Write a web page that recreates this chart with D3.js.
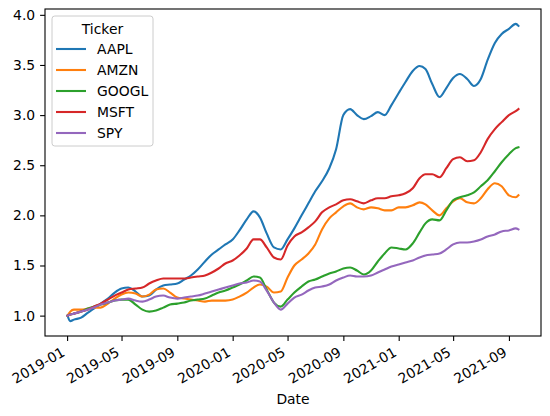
<!DOCTYPE html>
<html><head><meta charset="utf-8">
<script src="https://cdn.jsdelivr.net/npm/d3@7"></script>
<style>body{margin:0;background:#fff}svg{display:block}text{font-family:"DejaVu Sans",sans-serif;fill:#000}</style>
</head><body><svg id="c" width="550" height="416"></svg>
<script>
const dates = ["2019-01-02","2019-01-08","2019-01-16","2019-02-01","2019-02-16","2019-03-01","2019-03-16","2019-04-01","2019-04-16","2019-05-01","2019-05-16","2019-06-01","2019-06-16","2019-07-01","2019-07-16","2019-08-01","2019-08-16","2019-09-01","2019-09-16","2019-10-01","2019-10-16","2019-11-01","2019-11-16","2019-12-01","2019-12-16","2020-01-01","2020-01-16","2020-02-01","2020-02-16","2020-03-01","2020-03-16","2020-04-01","2020-04-16","2020-05-01","2020-05-16","2020-06-01","2020-06-16","2020-07-01","2020-07-16","2020-08-01","2020-08-16","2020-09-01","2020-09-16","2020-10-01","2020-10-16","2020-11-01","2020-11-16","2020-12-01","2020-12-16","2021-01-01","2021-01-16","2021-02-01","2021-02-16","2021-03-01","2021-03-16","2021-04-01","2021-04-16","2021-05-01","2021-05-16","2021-06-01","2021-06-16","2021-07-01","2021-07-16","2021-08-01","2021-08-16","2021-09-01","2021-09-16","2021-09-22"];
const tickers = ["AAPL","AMZN","GOOGL","MSFT","SPY"];
const colors = ["#1f77b4","#ff7f0e","#2ca02c","#d62728","#9467bd"];
const AAPL = [1.00,0.945,0.96,0.98,1.03,1.07,1.12,1.17,1.23,1.27,1.28,1.24,1.19,1.20,1.26,1.30,1.31,1.32,1.36,1.40,1.46,1.54,1.61,1.66,1.71,1.76,1.85,1.96,2.04,1.98,1.82,1.68,1.66,1.76,1.87,2.00,2.12,2.24,2.34,2.47,2.66,3.00,3.06,3.00,2.96,2.99,3.03,3.00,3.10,3.22,3.33,3.44,3.49,3.46,3.31,3.18,3.27,3.37,3.41,3.36,3.29,3.36,3.55,3.72,3.81,3.86,3.91,3.89];
const AMZN = [1.00,1.04,1.06,1.06,1.07,1.08,1.08,1.12,1.17,1.21,1.23,1.22,1.19,1.21,1.26,1.27,1.23,1.18,1.17,1.16,1.15,1.14,1.15,1.15,1.15,1.16,1.19,1.23,1.28,1.31,1.29,1.23,1.24,1.38,1.50,1.56,1.62,1.71,1.86,1.97,2.03,2.09,2.12,2.08,2.06,2.08,2.07,2.05,2.05,2.08,2.08,2.10,2.13,2.11,2.05,2.00,2.07,2.14,2.17,2.13,2.12,2.17,2.26,2.32,2.29,2.20,2.18,2.20];
const GOOGL = [1.00,1.01,1.02,1.04,1.07,1.09,1.11,1.13,1.15,1.16,1.16,1.11,1.06,1.04,1.05,1.08,1.11,1.12,1.13,1.15,1.16,1.17,1.20,1.23,1.25,1.28,1.31,1.35,1.39,1.38,1.26,1.13,1.09,1.16,1.23,1.29,1.34,1.36,1.39,1.42,1.44,1.47,1.48,1.45,1.41,1.45,1.54,1.62,1.68,1.67,1.66,1.72,1.83,1.92,1.96,1.95,2.05,2.15,2.18,2.20,2.23,2.29,2.35,2.44,2.53,2.61,2.67,2.68];
const MSFT = [1.00,1.01,1.02,1.04,1.06,1.09,1.12,1.16,1.20,1.23,1.26,1.27,1.28,1.32,1.35,1.37,1.37,1.37,1.37,1.38,1.39,1.40,1.43,1.47,1.52,1.55,1.60,1.67,1.76,1.76,1.68,1.58,1.56,1.70,1.79,1.83,1.88,1.94,2.03,2.08,2.11,2.15,2.16,2.14,2.12,2.15,2.17,2.17,2.19,2.20,2.22,2.27,2.37,2.41,2.41,2.38,2.47,2.56,2.58,2.54,2.55,2.63,2.76,2.86,2.93,3.00,3.04,3.06];
const SPY = [1.00,1.01,1.02,1.04,1.06,1.08,1.11,1.13,1.15,1.16,1.17,1.15,1.14,1.16,1.19,1.20,1.18,1.17,1.18,1.19,1.20,1.22,1.24,1.26,1.28,1.30,1.32,1.33,1.35,1.34,1.25,1.13,1.06,1.12,1.18,1.21,1.25,1.28,1.29,1.31,1.35,1.38,1.40,1.39,1.39,1.40,1.43,1.46,1.49,1.51,1.53,1.55,1.58,1.60,1.61,1.62,1.66,1.71,1.73,1.73,1.74,1.76,1.79,1.81,1.84,1.85,1.87,1.86];
const yTicks = [1.0,1.5,2.0,2.5,3.0,3.5,4.0];
const xTickLabels = ["2019-01","2019-05","2019-09","2020-01","2020-05","2020-09","2021-01","2021-05","2021-09"];
const xLabel = "Date", legendTitle = "Ticker";

const series = [AAPL,AMZN,GOOGL,MSFT,SPY];
const parse = d3.timeParse("%Y-%m-%d");
const pm = d3.timeParse("%Y-%m");
const dts = dates.map(parse);
const L=45,R=541,T=9,B=336;
const svg = d3.select("#c");
const [x0,x1] = d3.extent(dts);
const span = x1-x0;
const x = d3.scaleTime().domain([new Date(+x0-span*0.05), new Date(+x1+span*0.05)]).range([L,R]);
const allV = series.flat();
const [v0,v1] = d3.extent(allV);
const vs = v1-v0;
const y = d3.scaleLinear().domain([v0-vs*0.05, v1+vs*0.05]).range([B,T]);
const fs = 13.9;

const line = d3.line().x((d,i)=>x(dts[i])).y(d=>y(d)).curve(d3.curveMonotoneX);
series.forEach((s,k)=>{
  svg.append("path").attr("d",line(s)).attr("fill","none").attr("stroke",colors[k])
    .attr("stroke-width",2.1).attr("stroke-linejoin","round").attr("stroke-linecap","square");
});

// axes frame
svg.append("rect").attr("x",L).attr("y",T).attr("width",R-L).attr("height",B-T)
  .attr("fill","none").attr("stroke","#000").attr("stroke-width",1.1);

// y axis
const yAxis = d3.axisLeft(y).tickValues(yTicks).tickFormat(d3.format(".1f")).tickSize(4.9).tickPadding(4.9);
const gy = svg.append("g").attr("transform",`translate(${L},0)`).call(yAxis);
gy.select(".domain").remove();
gy.selectAll("line").attr("stroke","#000").attr("stroke-width",1.1);
gy.selectAll("text").attr("font-size",fs).attr("font-family","DejaVu Sans").attr("fill","#000");

// x axis
const xAxis = d3.axisBottom(x).tickValues(xTickLabels.map(pm)).tickFormat(d3.timeFormat("%Y-%m")).tickSize(4.9).tickPadding(0);
const gx = svg.append("g").attr("transform",`translate(0,${B})`).call(xAxis);
gx.select(".domain").remove();
gx.selectAll("line").attr("stroke","#000").attr("stroke-width",1.1);
gx.selectAll("text").attr("font-size",fs).attr("font-family","DejaVu Sans").attr("fill","#000")
  .attr("text-anchor","end").attr("dy",null).attr("y",0)
  .attr("transform","translate(-1.6,19) rotate(-30)");

svg.append("text").attr("x",(L+R)/2).attr("y",404).attr("text-anchor","middle")
  .attr("font-size",fs).text(xLabel);

// legend
const lg = svg.append("g");
lg.append("rect").attr("x",52).attr("y",16).attr("width",101).attr("height",130).attr("rx",2.8)
  .attr("fill","#fff").attr("fill-opacity",0.8).attr("stroke","#cccccc").attr("stroke-width",1);
lg.append("text").attr("x",102.5).attr("y",29).attr("dy","0.36em").attr("text-anchor","middle")
  .attr("font-size",fs).text(legendTitle);
tickers.forEach((t,k)=>{
  const yy = 49 + k*21;
  lg.append("line").attr("x1",56).attr("x2",86).attr("y1",yy).attr("y2",yy)
    .attr("stroke",colors[k]).attr("stroke-width",2.1);
  lg.append("text").attr("x",97).attr("y",yy).attr("dy","0.36em").attr("font-size",fs).text(t);
});
</script></body></html>
